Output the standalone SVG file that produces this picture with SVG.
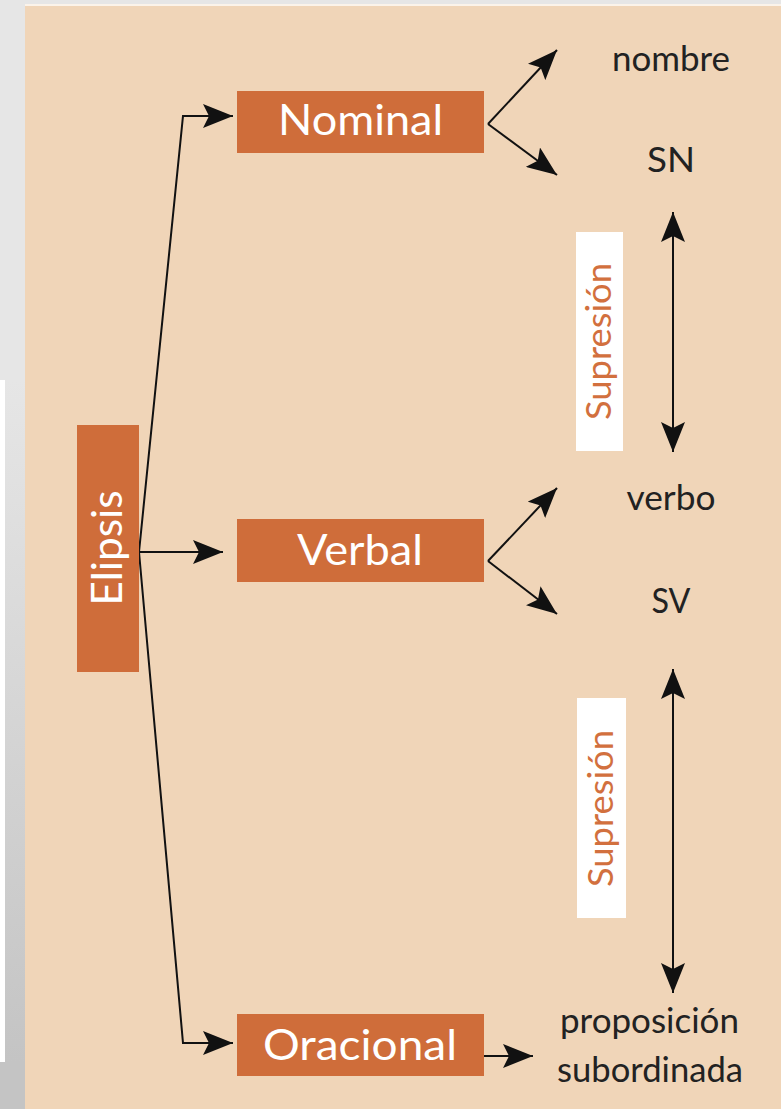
<svg xmlns="http://www.w3.org/2000/svg" width="781" height="1109" viewBox="0 0 781 1109">
<defs>
<linearGradient id="side" x1="0" y1="0" x2="0" y2="1">
<stop offset="0" stop-color="#e6e6e6"/>
<stop offset="1" stop-color="#c4c4c4"/>
</linearGradient>
<marker id="ah" markerUnits="userSpaceOnUse" markerWidth="30" markerHeight="24" refX="30" refY="12" orient="auto-start-reverse" viewBox="0 0 30 24">
<path d="M0,0 L30,12 L0,24 L6,12 z" fill="#111"/>
</marker>
<style>
.box{fill:#cf6d3a}
.lbl{font-family:Lato,"Open Sans","Liberation Sans",sans-serif;font-size:42px;fill:#ffffff;text-anchor:middle}
.term{font-family:Lato,"Open Sans","Liberation Sans",sans-serif;font-size:34px;fill:#222222;text-anchor:middle}
.sup{font-family:Lato,"Open Sans","Liberation Sans",sans-serif;font-size:35px;fill:#d2703e;text-anchor:middle}
.wb{fill:#ffffff}
.c{fill:none;stroke:#111;stroke-width:2}
</style>
</defs>
<!-- background -->
<rect x="0" y="0" width="781" height="1109" fill="#e6e6e6"/>
<rect x="0" y="380" width="5" height="682" fill="#ffffff"/>
<rect x="5" y="380" width="20" height="682" fill="url(#side)"/>
<rect x="0" y="1062" width="25" height="47" fill="#c4c4c4"/>
<rect x="25" y="4" width="756" height="2" fill="#fbf3ea"/>
<rect x="25" y="6" width="756" height="1103" fill="#f0d5b8"/>

<g id="connectors">
<polyline class="c" points="139,552 183,116 233,116" marker-end="url(#ah)"/>
<line class="c" x1="139" y1="552" x2="223" y2="552" marker-end="url(#ah)"/>
<polyline class="c" points="139,552 183,1043 233,1043" marker-end="url(#ah)"/>
<line class="c" x1="488" y1="124" x2="557" y2="50" marker-end="url(#ah)"/>
<line class="c" x1="488" y1="124" x2="557" y2="175" marker-end="url(#ah)"/>
<line class="c" x1="488" y1="561" x2="557" y2="488" marker-end="url(#ah)"/>
<line class="c" x1="488" y1="561" x2="557" y2="614" marker-end="url(#ah)"/>
<line class="c" x1="484" y1="1056" x2="533" y2="1056" marker-end="url(#ah)"/>
<line class="c" x1="673" y1="212" x2="673" y2="452" marker-start="url(#ah)" marker-end="url(#ah)"/>
<line class="c" x1="673" y1="669" x2="673" y2="993" marker-start="url(#ah)" marker-end="url(#ah)"/>
</g>

<g id="elipsis">
<rect class="box" x="77" y="425" width="62" height="247"/>
<text class="lbl" transform="translate(122,548) rotate(-90)" textLength="115" lengthAdjust="spacingAndGlyphs">Elipsis</text>
</g>
<g id="nominal">
<rect class="box" x="237" y="91" width="247" height="62"/>
<text class="lbl" x="360.5" y="135" textLength="165" lengthAdjust="spacingAndGlyphs">Nominal</text>
</g>
<g id="verbal">
<rect class="box" x="237" y="519" width="247" height="63"/>
<text class="lbl" x="360" y="565" textLength="126" lengthAdjust="spacingAndGlyphs">Verbal</text>
</g>
<g id="oracional">
<rect class="box" x="237" y="1014" width="247" height="62"/>
<text class="lbl" x="360" y="1060" textLength="194" lengthAdjust="spacingAndGlyphs">Oracional</text>
</g>

<g id="nombre"><text class="term" x="671" y="71" textLength="118" lengthAdjust="spacingAndGlyphs">nombre</text></g>
<g id="sn"><text class="term" x="671" y="172" textLength="48" lengthAdjust="spacingAndGlyphs">SN</text></g>
<g id="verbo"><text class="term" x="671" y="510" textLength="89" lengthAdjust="spacingAndGlyphs">verbo</text></g>
<g id="sv"><text class="term" x="671" y="613" textLength="39" lengthAdjust="spacingAndGlyphs">SV</text></g>
<g id="proposicion">
<text class="term" x="649.5" y="1033" textLength="179" lengthAdjust="spacingAndGlyphs">proposición</text>
<text class="term" x="650" y="1082" textLength="186" lengthAdjust="spacingAndGlyphs">subordinada</text>
</g>

<g id="supresion1">
<rect class="wb" x="576" y="232" width="47" height="219"/>
<text class="sup" transform="translate(611,341.5) rotate(-90)" textLength="157" lengthAdjust="spacingAndGlyphs">Supresión</text>
</g>
<g id="supresion2">
<rect class="wb" x="577" y="698" width="49" height="220"/>
<text class="sup" transform="translate(613,808.5) rotate(-90)" textLength="157" lengthAdjust="spacingAndGlyphs">Supresión</text>
</g>
</svg>
